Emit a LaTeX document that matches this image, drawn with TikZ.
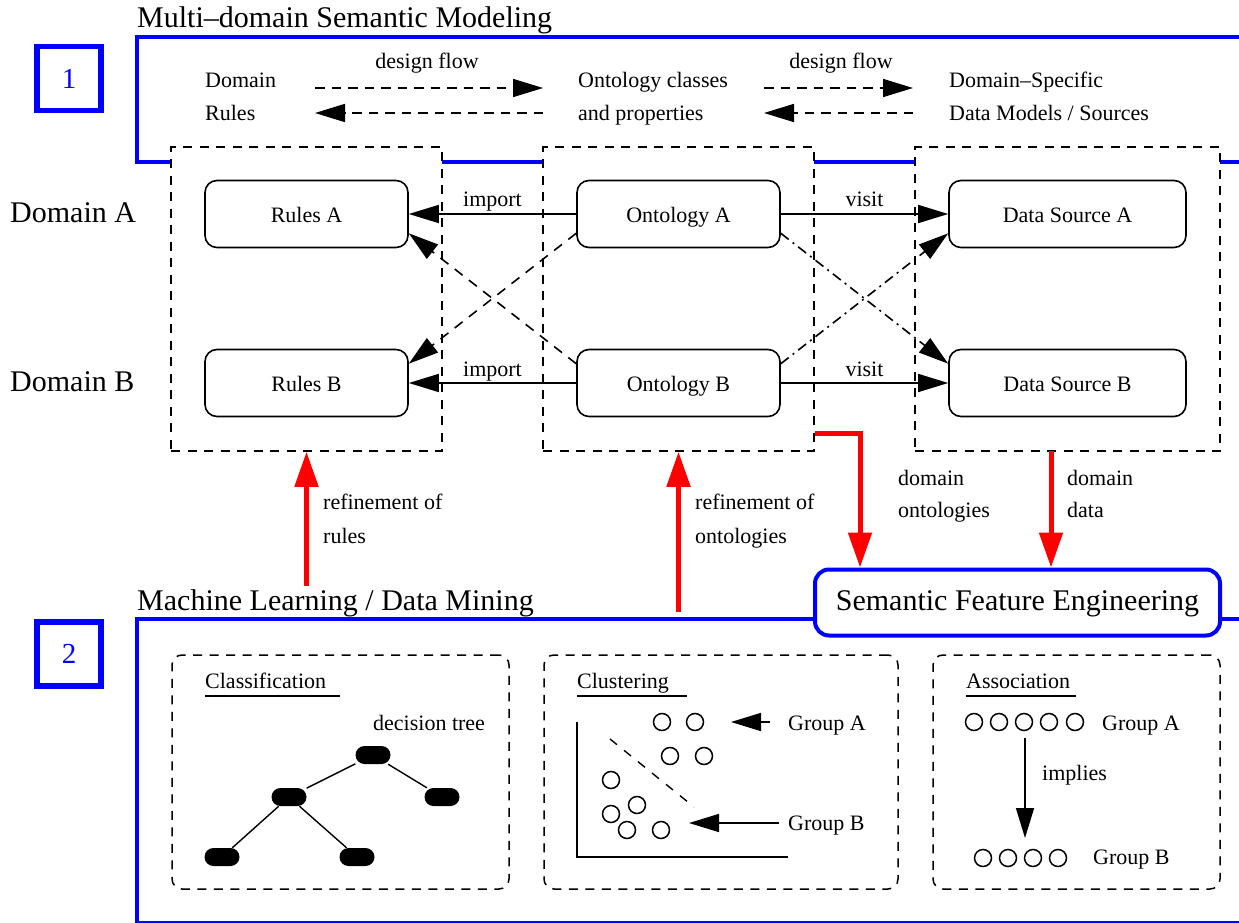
\documentclass[tikz,border=0pt]{standalone}
\usepackage{fontspec}
\setmainfont{Liberation Serif}
\usetikzlibrary{arrows.meta,calc}

\begin{document}
\begin{tikzpicture}[x=1pt,y=-1pt,
  bigtxt/.style={font=\fontsize{30}{36}\selectfont},
  smalltxt/.style={font=\fontsize{22}{30}\selectfont},
  lbl/.style={inner sep=0pt, smalltxt},
  biglbl/.style={inner sep=0pt, bigtxt},
  frameline/.style={draw=blue, line width=3.5pt},
  numbox/.style={draw=blue, line width=5.5pt, minimum width=64pt, minimum height=64pt,
    inner sep=0pt, text=blue, font=\fontsize{29}{34}\selectfont},
  colbox/.style={draw, fill=white, line width=1.5pt, dash pattern=on 9pt off 7.5pt,
    minimum height=304pt, inner sep=0pt},
  itembox/.style={draw, fill=white, rounded corners=12pt, line width=1.6pt,
    minimum height=67pt, inner sep=0pt, smalltxt, text height=16pt, text depth=0pt},
  tipblack/.style={-{Triangle[length=30pt,width=18pt]}},
  link/.style={line width=1.6pt, tipblack},
  flowline/.style={link, dash pattern=on 9.5pt off 7pt},
  crossdash/.style={link, dash pattern=on 10pt off 8pt},
  crossdot/.style={link, dash pattern=on 10pt off 5pt on 2pt off 5pt},
  redarrow/.style={draw=red, line width=5pt, -{Triangle[length=35pt,width=23pt]}},
  panel/.style={draw, line width=1.5pt, dash pattern=on 9pt off 7.5pt,
    rounded corners=10pt, inner sep=0pt, minimum height=234pt},
  pill/.style={fill=black, rounded corners=9pt, minimum width=35pt, minimum height=18pt, inner sep=0pt},
  dot/.style={draw, circle, line width=1.5pt, minimum size=17pt, inner sep=0pt},
  uline/.style={line width=1.6pt},
]
\useasboundingbox (0,0) rectangle (1239,923);
\clip (0,0) rectangle (1239,923);

% ---------- section 1: semantic modeling ----------
\draw[frameline] (1260,37) -- (137,37) -- (137,162) -- (1260,162);
\node[numbox] (num1) at (69,78.5) {1};
\node[biglbl, anchor=base west] (title1) at (137,28) {Multi–domain Semantic Modeling};

% design flow legend
\node[lbl, anchor=base west] (fl1a) at (205,88) {Domain};
\node[lbl, anchor=base west] (fl1b) at (205,121) {Rules};
\node[lbl, anchor=base west] (fl2a) at (578,88) {Ontology classes};
\node[lbl, anchor=base west] (fl2b) at (578,121) {and properties};
\node[lbl, anchor=base west] (fl3a) at (949,88) {Domain–Specific};
\node[lbl, anchor=base west] (fl3b) at (949,121) {Data Models / Sources};
\node[lbl, anchor=base] (df1) at (427,69) {design flow};
\node[lbl, anchor=base] (df2) at (841,69) {design flow};
\coordinate (f1l) at (315,88);  \coordinate (f1r) at (543,88);
\coordinate (f1lb) at (315,113); \coordinate (f1rb) at (543,113);
\coordinate (f2l) at (764,88);  \coordinate (f2r) at (913,88);
\coordinate (f2lb) at (764,113); \coordinate (f2rb) at (913,113);
\draw[flowline] (f1l) -- (f1r);
\draw[flowline] (f1rb) -- (f1lb);
\draw[flowline] (f2l) -- (f2r);
\draw[flowline] (f2rb) -- (f2lb);

% domain columns
\node[colbox, minimum width=271pt] (colR) at (306.5,299) {};
\node[colbox, minimum width=271pt] (colO) at (678.5,299) {};
\node[colbox, minimum width=305pt] (colD) at (1067.5,299) {};

\node[biglbl, anchor=base west] (domA) at (10,222) {Domain A};
\node[biglbl, anchor=base west] (domB) at (10,391) {Domain B};

\node[itembox, minimum width=203pt] (rulesA) at (306.5,214) {Rules A};
\node[itembox, minimum width=203pt] (rulesB) at (306.5,383) {Rules B};
\node[itembox, minimum width=203pt] (ontA) at (678.5,214) {Ontology A};
\node[itembox, minimum width=203pt] (ontB) at (678.5,383) {Ontology B};
\node[itembox, minimum width=237pt] (dsA) at (1067.5,214) {Data Source A};
\node[itembox, minimum width=237pt] (dsB) at (1067.5,383) {Data Source B};

\draw[link] (ontA) -- (rulesA) node[midway, lbl, anchor=base, yshift=8pt] {import};
\draw[link] (ontB) -- (rulesB) node[midway, lbl, anchor=base, yshift=7pt] {import};
\draw[link] (ontA) -- (dsA) node[midway, lbl, anchor=base, yshift=8pt] {visit};
\draw[link] (ontB) -- (dsB) node[midway, lbl, anchor=base, yshift=7pt] {visit};

\draw[crossdash] ([yshift=15pt]ontA.south west) -- ([yshift=-15pt]rulesB.north east);
\draw[crossdash] ([yshift=-15pt]ontB.north west) -- ([yshift=15pt]rulesA.south east);
\draw[crossdot] ([yshift=15pt]ontA.south east) -- ([yshift=-15pt]dsB.north west);
\draw[crossdot] ([yshift=-15pt]ontB.north east) -- ([yshift=15pt]dsA.south west);

% ---------- section 2: machine learning ----------
\draw[frameline] (1260,619) -- (137,619) -- (137,922.5) -- (1260,922.5);
\node[numbox] (num2) at (69,654) {2};
\node[biglbl, anchor=base west] (title2) at (137,610) {Machine Learning / Data Mining};

\node[draw=blue, line width=4pt, rounded corners=14pt, fill=white, minimum width=405pt,
  minimum height=66pt, inner sep=0pt, bigtxt, text height=16pt, text depth=0pt]
  (sfe) at (1017.5,602.5) {Semantic Feature Engineering};

% red flows
\coordinate (mlR) at (306.5,586);
\coordinate (mlO) at (678.5,612);
\coordinate (ontoOut) at (815,433);
\coordinate (dataOut) at (1051,451);
\draw[redarrow] (mlR) -- (colR.south);
\draw[redarrow] (mlO) -- (colO.south);
\draw[redarrow] (ontoOut) -| ([xshift=47pt]sfe.north west);
\draw[redarrow] (dataOut) -- (dataOut |- sfe.north);

\node[lbl, anchor=base west] (rr1) at (323,509) {refinement of};
\node[lbl, anchor=base west] (rr2) at (323,543) {rules};
\node[lbl, anchor=base west] (ro1) at (695,509) {refinement of};
\node[lbl, anchor=base west] (ro2) at (695,543) {ontologies};
\node[lbl, anchor=base west] (do1) at (898,485) {domain};
\node[lbl, anchor=base west] (do2) at (898,517) {ontologies};
\node[lbl, anchor=base west] (dd1) at (1067,485) {domain};
\node[lbl, anchor=base west] (dd2) at (1067,517) {data};

% classification panel
\node[panel, minimum width=337pt] (pCls) at (340.5,772) {};
\node[lbl, anchor=base west] (tCls) at (205,688) {Classification};
\draw[uline] (205,696) -- (340,696);
\node[lbl, anchor=base west] (tTree) at (373,730) {decision tree};
\node[pill] (root) at (373,755) {};
\node[pill] (nl) at (289,797) {};
\node[pill] (nr) at (442,797) {};
\node[pill] (ll) at (222,857) {};
\node[pill] (lm) at (357,857) {};
\draw[line width=1.4pt] (root) -- (nl) (root) -- (nr) (nl) -- (ll) (nl) -- (lm);

% clustering panel
\node[panel, minimum width=354pt] (pClu) at (721,772) {};
\node[lbl, anchor=base west] (tClu) at (577,688) {Clustering};
\draw[uline] (577,696) -- (687,696);
\draw[line width=1.6pt] (577,722) -- (577,857) -- (788,857);
\foreach \px/\py [count=\i] in {662/722, 695/722, 670/756, 704/756,
    611/780, 637/805, 611/814, 627/830, 661/830}
  \node[dot] (c\i) at (\px,\py) {};
\draw[line width=1.4pt, dash pattern=on 9pt off 9pt] (610,739) -- (694,807);
\node[lbl, anchor=base west] (gA) at (788,730) {Group A};
\node[lbl, anchor=base west] (gB) at (788,830) {Group B};
\coordinate (gAs) at (770,722); \coordinate (gAe) at (731,722);
\coordinate (gBs) at (779,823); \coordinate (gBe) at (689,823);
\draw[link] (gAs) -- (gAe);
\draw[link] (gBs) -- (gBe);

% association panel
\node[panel, minimum width=287pt] (pAss) at (1076.5,772) {};
\node[lbl, anchor=base west] (tAss) at (966,688) {Association};
\draw[uline] (966,696) -- (1076,696);
\foreach \px [count=\i] in {974,999,1024,1049,1075}
  \node[dot] (a\i) at (\px,722) {};
\foreach \px [count=\i] in {983,1008,1033,1058}
  \node[dot] (b\i) at (\px,858) {};
\node[lbl, anchor=base west] (aA) at (1102,730) {Group A};
\node[lbl, anchor=base west] (aB) at (1093,864) {Group B};
\node[lbl, anchor=base west] (imp) at (1042,780) {implies};
\coordinate (impS) at (1025,738); \coordinate (impE) at (1025,838);
\draw[link] (impS) -- (impE);

\end{tikzpicture}
\end{document}
